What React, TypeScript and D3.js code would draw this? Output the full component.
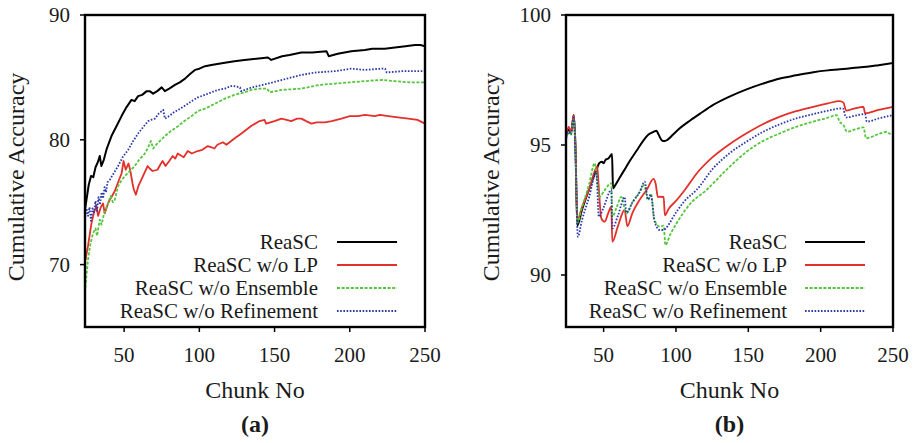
import React from "react";
import * as d3 from "d3";

type P = [number, number];

const seriesNames = ["ReaSC", "ReaSC w/o LP", "ReaSC w/o Ensemble", "ReaSC w/o Refinement"];
const xTicks = [50, 100, 150, 200, 250];
const yTicksA = [70, 80, 90];
const yTicksB = [90, 95, 100];

const aReaSC: P[] = [[24,74.4],[25,75.2],[26.5,76.4],[28,77.1],[29.5,77.0],[31,77.8],[32.5,78.2],[33.8,78.7],[34.9,77.9],[36.5,78.4],[38.5,79.3],[41.6,80.3],[45,81.1],[48.3,81.9],[51.5,82.6],[54.9,83.2],[57,83.1],[59.3,83.5],[62,83.6],[65,83.9],[67,83.9],[69.3,83.7],[72,83.9],[75,84.2],[77.1,83.9],[80,84.1],[83.8,84.4],[87,84.6],[90.5,84.9],[94,85.3],[97.1,85.6],[100,85.7],[103.8,85.9],[108,86.0],[113,86.1],[118,86.2],[123.3,86.3],[130,86.4],[138,86.5],[145.6,86.6],[147.8,86.4],[155,86.7],[160,86.8],[167.8,87.0],[175,87.0],[184.5,87.1],[186,86.7],[192,86.9],[201,87.1],[210,87.2],[215,87.3],[223.3,87.3],[230,87.4],[237,87.5],[243.3,87.6],[247,87.6],[250,87.5]];
const aNoLP: P[] = [[24,70.2],[26,71.5],[28.3,73.3],[30,74.2],[31.6,74.7],[32.7,73.9],[34.5,74.6],[36,74.9],[37.1,74.1],[39,74.8],[40.5,75.2],[42,75.5],[43.8,75.9],[46,76.6],[48.3,77.3],[49.6,78.3],[51.1,77.6],[52.9,78.1],[54,77.6],[55.6,76.5],[56.5,76.0],[57.8,75.6],[59.5,76.3],[61.1,76.7],[63,77.2],[65.6,77.9],[67,77.7],[68.9,77.5],[72.2,77.6],[74,78.0],[75.6,78.3],[77.5,77.9],[80,78.3],[82.3,78.7],[84,78.5],[85.6,78.9],[89.6,78.6],[92.3,79.1],[95,78.9],[98.9,79.1],[102,79.2],[105.6,79.5],[108,79.4],[110,79.3],[112,79.6],[115.6,79.8],[118,79.6],[123.3,80.1],[128,80.5],[134.4,81.1],[140,81.5],[143.3,81.6],[144.4,81.3],[150,81.5],[154.5,81.7],[158,81.6],[161.1,81.5],[165,81.7],[167.8,81.7],[171,81.5],[174.5,81.3],[178,81.4],[183.3,81.4],[188,81.5],[194.5,81.7],[200,81.9],[205.6,81.9],[210,82.0],[216.7,81.9],[220,82.0],[225.6,81.9],[232,81.8],[238.9,81.7],[245,81.6],[250,81.3]];
const aNoEns: P[] = [[24,67.8],[25,69.2],[26,70.4],[27.5,71.6],[29.3,72.5],[31,72.9],[32,72.3],[33.8,73.6],[35,73.2],[36.5,74.0],[38,74.5],[39.3,74.9],[41,75.5],[42.5,75.0],[43.8,75.2],[46,76.3],[48,76.7],[50.5,77.1],[53,77.4],[57.1,77.9],[60,78.4],[63.8,78.9],[66,79.4],[67.8,79.9],[69.3,79.3],[72,79.7],[77.1,80.3],[81,80.7],[86,81.1],[90,81.5],[94.9,81.9],[99,82.3],[103.8,82.5],[110.5,82.9],[117,83.3],[123.3,83.6],[130,83.8],[134.4,84.0],[140,84.1],[145.1,84.1],[146.7,83.8],[155,84.0],[167.8,84.1],[180,84.4],[190,84.5],[200,84.6],[210,84.7],[221.1,84.8],[230,84.7],[240,84.6],[250,84.6]];
const aNoRef: P[] = [[24,73.8],[25,74.5],[26,73.9],[27,74.6],[28,73.5],[29,74.5],[30,74.2],[31,75.1],[32,74.3],[33,75.4],[34,74.8],[35,75.8],[36,75.3],[37,76.2],[38,75.8],[39,76.6],[40.5,76.8],[43,77.3],[46,77.9],[49,78.6],[52.7,79.2],[56,79.9],[59.3,80.5],[62.5,81.0],[66,81.5],[68,81.6],[70.5,81.7],[73,82.1],[76,82.4],[77.1,81.7],[80,81.9],[83,82.2],[86,82.4],[90,82.7],[94.9,83.1],[99,83.4],[103.8,83.6],[108,83.8],[112.3,84.0],[117,84.1],[121,84.3],[123.3,84.3],[127,84.2],[127.8,83.9],[135,84.2],[145.6,84.5],[155,84.8],[167.8,85.2],[178,85.4],[190,85.5],[201,85.7],[210,85.6],[221,85.7],[223.5,85.7],[224.5,85.4],[235,85.5],[250,85.5]];

const bReaSC: P[] = [[24,95.3],[26,95.6],[27.5,95.5],[29.4,96.15],[30.5,95.0],[31.8,91.9],[35,92.5],[40,93.3],[45.4,94.1],[47,94.3],[48.8,94.36],[50,94.3],[51.2,94.42],[53.5,94.49],[55.8,94.65],[56.5,93.33],[58,93.45],[61.5,93.78],[65,94.1],[68.5,94.42],[73,94.8],[77.7,95.19],[81,95.4],[84.6,95.51],[86.5,95.55],[88,95.4],[90.4,95.17],[92,95.15],[93.8,95.19],[98,95.4],[102.6,95.64],[110,95.95],[117,96.22],[125.7,96.54],[137,96.86],[148.8,97.14],[160,97.36],[171.9,97.56],[183,97.68],[194.9,97.8],[205,97.87],[213.4,97.91],[222,97.96],[231.9,98.01],[240,98.07],[250,98.15]];
const bNoLP: P[] = [[24,95.4],[26,95.7],[27.5,95.5],[29.3,96.15],[30.5,95.0],[31.8,92.1],[35,92.6],[40,93.3],[45.6,94.17],[46.5,93.5],[48.4,92.18],[50.7,92.05],[53,92.35],[55.3,92.63],[56,91.28],[60,91.9],[64.5,92.5],[66.4,91.88],[70,92.4],[75,92.9],[80,93.3],[84.5,93.7],[86,93.5],[87.5,93.0],[88.8,93.01],[91.5,93.0],[92.3,92.3],[95,92.55],[100,92.85],[106.1,93.27],[115,93.95],[125.7,94.55],[137,95.03],[148.8,95.45],[160,95.8],[171.9,96.09],[183,96.3],[194.9,96.47],[205,96.6],[213,96.69],[215.8,96.63],[217.6,96.32],[223,96.4],[229.6,96.47],[230.7,96.22],[240,96.35],[250,96.47]];
const bNoEns: P[] = [[24,95.2],[26,95.5],[27.5,95.4],[29.3,96.05],[30.5,94.9],[31.8,92.0],[35,92.6],[40,93.5],[43.8,94.3],[47.2,93.0],[50,93.2],[55.3,93.53],[56,92.24],[59,92.6],[62.2,93.0],[65.7,92.37],[70,92.8],[75,93.2],[77.9,93.46],[80.7,92.88],[83,93.08],[84.8,92.18],[88.8,91.86],[91.5,91.9],[92.7,91.15],[96,91.55],[100,91.95],[110,92.75],[121.1,93.27],[135,94.05],[148.8,94.74],[160,95.15],[171.9,95.45],[183,95.7],[194.9,95.9],[205,96.05],[211.1,96.15],[213,95.9],[215.8,95.77],[218.1,95.51],[224,95.6],[229.6,95.68],[231.4,95.26],[240,95.42],[245.8,95.51],[247,95.45],[250,95.41]];
const bNoRef: P[] = [[24,95.3],[26,95.5],[27.5,95.4],[29.3,96.1],[30.5,94.8],[32.2,91.47],[35,92.1],[40,93.0],[44.9,93.97],[46.7,92.24],[50,92.6],[55.3,93.27],[56,91.79],[60,92.3],[64.5,93.0],[65.7,92.4],[70,92.8],[75,93.2],[78.4,93.59],[80.7,92.9],[82.5,93.1],[85.3,92.05],[88.8,91.73],[91.5,91.73],[93,91.8],[100,92.4],[106,92.85],[114.2,93.27],[125.7,94.1],[137,94.68],[148.8,95.13],[160,95.5],[171.9,95.8],[183,96.02],[194.9,96.19],[205,96.32],[215.3,96.41],[217.6,96.06],[224,96.13],[230.7,96.19],[231.9,95.9],[240,96.02],[250,96.15]];

const styles = [
  { color: "#000000", width: 2, dash: "" },
  { color: "#e3302a", width: 1.8, dash: "" },
  { color: "#55c63c", width: 1.8, dash: "3,1.6" },
  { color: "#2a3aa8", width: 1.8, dash: "1.6,1.6" },
];

const FONT = "Liberation Serif";
const TXT = "#1a1a1a";

interface TProps { x: number; y: number; size: number; anchor: string; rotate?: number; bold?: boolean; children: React.ReactNode }

// Text drawn at twice the size and scaled down by half.
function T({ x, y, size, anchor, rotate, bold, children }: TProps) {
  return (
    <g transform={`translate(${x},${y})${rotate ? ` rotate(${rotate})` : ""} scale(0.5)`}>
      <text x={0} y={0} textAnchor={anchor} fontSize={size * 2} fontWeight={bold ? "bold" : "normal"}
        fill={TXT} style={{ fontFamily: FONT }}>{children}</text>
    </g>
  );
}

interface PanelProps {
  left: number; right: number; top: number; bottom: number;
  yDomain: [number, number]; yTicks: number[];
  series: P[][]; smooth: boolean;
  yLabelX: number; legendTextX: number; legendLineX: [number, number];
  tag: string;
}

function Panel(p: PanelProps) {
  const x = d3.scaleLinear().domain([24, 250]).range([p.left, p.right]);
  const y = d3.scaleLinear().domain(p.yDomain).range([p.bottom, p.top]);
  const line = d3.line<P>().x(d => x(d[0])).y(d => y(d[1]))
    .curve(p.smooth ? d3.curveMonotoneX : d3.curveLinear);
  const cx = (p.left + p.right) / 2;
  const legendY = [242, 265, 288, 311];
  return (
    <g>
      <defs>
        <clipPath id={"clip" + p.tag}>
          <rect x={p.left} y={p.top} width={p.right - p.left} height={p.bottom - p.top} />
        </clipPath>
      </defs>
      <g clipPath={`url(#clip${p.tag})`}>
        {p.series.map((s, i) => (
          <path key={i} d={line(s) || ""} fill="none" stroke={styles[i].color}
            strokeWidth={styles[i].width} strokeDasharray={styles[i].dash || undefined}
            strokeLinejoin="round" />
        ))}
      </g>
      <rect x={p.left} y={p.top} width={p.right - p.left} height={p.bottom - p.top}
        fill="none" stroke="#000" strokeWidth={2.4} />
      {p.yTicks.map(t => (
        <g key={"y" + t}>
          <line x1={p.left - 5} x2={p.left} y1={y(t)} y2={y(t)} stroke="#000" strokeWidth={1.5} />
          <T x={p.left - 15} y={y(t) + 7} size={21} anchor="end">{t}</T>
        </g>
      ))}
      {xTicks.map(t => (
        <g key={"x" + t}>
          <line x1={x(t)} x2={x(t)} y1={p.bottom} y2={p.bottom + 5} stroke="#000" strokeWidth={1.5} />
          <T x={x(t)} y={362} size={21} anchor="middle">{t}</T>
        </g>
      ))}
      <T x={cx} y={398} size={24} anchor="middle">Chunk No</T>
      <T x={p.yLabelX} y={(p.top + p.bottom) / 2 + 6} rotate={-90} size={24} anchor="middle">Cumulative Accuracy</T>
      <T x={cx} y={432} size={24} anchor="middle" bold>({p.tag})</T>
      {seriesNames.map((n, i) => (
        <g key={n}>
          <T x={p.legendTextX} y={legendY[i] + 7} size={21} anchor="end">{n}</T>
          <line x1={p.legendLineX[0]} x2={p.legendLineX[1]} y1={legendY[i]} y2={legendY[i]}
            stroke={styles[i].color} strokeWidth={styles[i].width}
            strokeDasharray={styles[i].dash || undefined} />
        </g>
      ))}
    </g>
  );
}

export default function App() {
  return (
    <svg width={915} height={443} style={{ display: "block", position: "absolute", left: 0, top: 0 }}>
      <rect width={915} height={443} fill="#fff" />
      <Panel left={85} right={425} top={15} bottom={327} yDomain={[65, 90]} yTicks={yTicksA}
        series={[aReaSC, aNoLP, aNoEns, aNoRef]} smooth={false}
        yLabelX={24} legendTextX={318} legendLineX={[337, 397]} tag="a" />
      <Panel left={566} right={893} top={15} bottom={327} yDomain={[88, 100]} yTicks={yTicksB}
        series={[bReaSC, bNoLP, bNoEns, bNoRef]} smooth={true}
        yLabelX={499} legendTextX={787} legendLineX={[805, 865]} tag="b" />
    </svg>
  );
}
